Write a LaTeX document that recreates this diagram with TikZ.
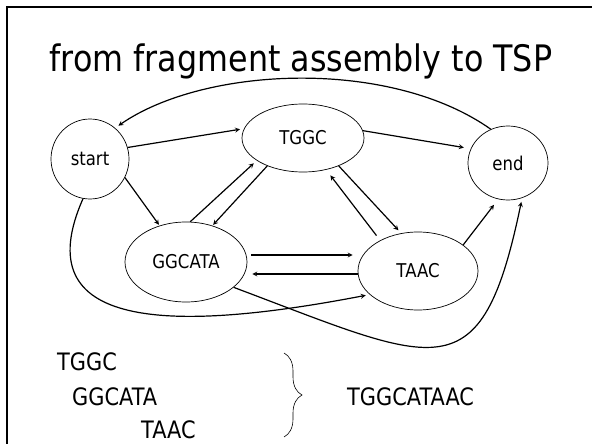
\documentclass[tikz,border=0pt]{standalone}
\usepackage{fontspec}
\setmainfont{DejaVu Sans}[FakeStretch=0.87]
\usetikzlibrary{positioning,shapes.geometric,decorations.pathreplacing}

\begin{document}
\begin{tikzpicture}[>=stealth,x=1pt,y=-1pt,
    frag/.style={draw,ellipse,line width=0.7pt,inner sep=0pt,font=\fontsize{19}{22}\selectfont},
    link/.style={->,line width=1.2pt,shorten >=4pt},
    seq/.style={anchor=base west,inner sep=0pt,font=\fontsize{24}{28}\selectfont}]
    \useasboundingbox (0,0) rectangle (592,444);
    \draw[line width=2.4pt] (7,444) |- (592,7);
    \node[anchor=base,font=\fontsize{36.5}{42}\selectfont] (title) at (301,72) {from fragment assembly to TSP};
    \node[frag,minimum width=78pt,minimum height=80pt] (start) at (90,159) {start};
    \node[frag,minimum width=122pt,minimum height=68pt] (tggc) at (303,138) {TGGC};
    \node[frag,minimum width=80pt,minimum height=74pt] (end) at (508,163) {end};
    \node[frag,minimum width=122pt,minimum height=80pt] (ggcata) at (186,262) {GGCATA};
    \node[frag,minimum width=120pt,minimum height=78pt] (taac) at (418,271) {TAAC};
    \draw[link] (start.17) -- (tggc.171);
    \draw[link,shorten >=7pt] (tggc.7) -- (end.159);
    \draw[link] (end.117) .. controls (390,58) and (205,66) .. (start.51);
    \draw[link,shorten >=1pt] (start.-28) -- (ggcata.126);
    \draw[link] (ggcata.84) -- (tggc.206);
    \draw[link,shorten >=1pt] (tggc.218) -- (ggcata.54);
    \draw[link,shorten <=6pt,shorten >=7pt] (taac.141) -- (tggc.-54);
    \draw[link] (tggc.-38) -- (taac.114);
    \draw[link,shorten <=4pt,shorten >=5pt] ([yshift=7pt]ggcata.east) -- ([yshift=7pt]ggcata.east -| taac.west);
    \draw[link,shorten >=5pt] ([yshift=-3pt]taac.west) -- ([yshift=-3pt]taac.west -| ggcata.east);
    \draw[link,shorten >=7pt] (taac.30) -- (end.255);
    \draw[link] (start.260) .. controls (25,330) and (170,333) .. (taac.206);
    \draw[link] (ggcata.-28) .. controls (438,364) and (481,396) .. (end.-68);
    \node[seq] (s1) at (57,370) {TGGC};
    \node[seq] (s2) at (72,405) {GGCATA};
    \node[seq] (s3) at (141,438) {TAAC};
    \node[seq] (merged) at (347,405) {TGGCATAAC};
    \coordinate (btop) at (284,353);
    \coordinate (bbot) at (284,437);
    \draw[line width=0.6pt,decorate,decoration={brace,amplitude=18pt}] (btop) -- (bbot);
\end{tikzpicture}
\end{document}
